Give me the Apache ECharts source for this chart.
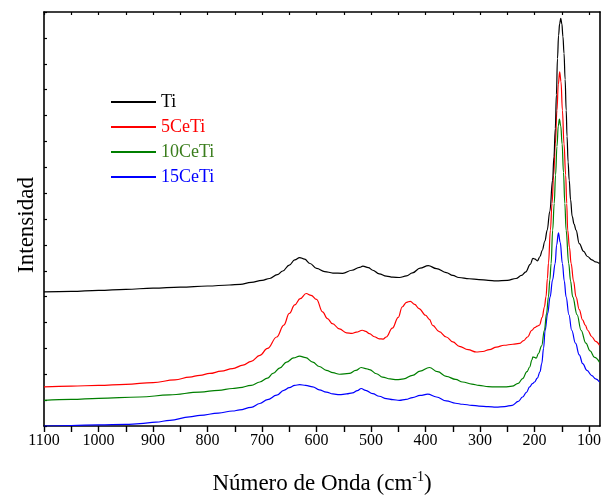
<!DOCTYPE html>
<html>
<head>
<meta charset="utf-8">
<script src="https://cdn.jsdelivr.net/npm/echarts@6/dist/echarts.min.js"></script>
<style>
  html, body { margin: 0; padding: 0; background: #fff; }
  #chart { width: 601px; height: 497px; }
</style>
</head>
<body>
<div id="chart"></div>
<script>
// Raman spectra: [wavenumber (cm-1), intensity (offset, a.u.)]
const tiSpectrum = [
  [1100,5.18],[1050,5.20],[1000,5.24],[950,5.28],[900,5.33],[850,5.37],[800,5.41],[760,5.45],
  [740,5.47],[720,5.55],[700,5.63],[686,5.70],[672,5.85],[662,5.99],[650,6.22],[640,6.42],
  [631,6.51],[622,6.45],[612,6.28],[600,6.09],[585,5.97],[570,5.91],[552,5.90],[535,6.02],
  [521,6.13],[515,6.18],[505,6.12],[497,6.02],[485,5.88],[472,5.79],[460,5.75],[448,5.74],
  [435,5.80],[424,5.92],[410,6.10],[395,6.20],[380,6.08],[362,5.93],[350,5.82],[339,5.74],
  [320,5.69],[302,5.66],[285,5.63],[271,5.61],[250,5.63],[234,5.70],[224,5.82],[216,5.96],
  [208,6.25],[203,6.48],[199,6.45],[195,6.38],[190,6.55],[186,6.79],[181,7.15],[177,7.56],
  [172,8.3],[167,9.5],[164.5,10.4],[162,11.5],[160,12.8],[158,14.2],[156,15.1],[154,15.55],
  [152,15.75],[150,15.55],[148,15.05],[146,14.4],[144,13.4],[142,12.2],[140.5,11.2],[138.5,10.2],
  [136.5,9.5],[134,8.75],[131,8.1],[127.5,7.8],[124,7.57],[118,7.05],
  [110,6.75],[103,6.55],[95,6.42],[88,6.34],[81,6.28]
];
const ce5Spectrum = [
  [1100,1.51],[1050,1.54],[1000,1.57],[950,1.61],[900,1.68],[860,1.78],[833,1.89],[814,1.96],
  [796,2.03],[775,2.12],[754,2.22],[735,2.35],[720,2.50],[704,2.73],[690,3.0],[673,3.44],
  [660,3.9],[650,4.35],[640,4.68],[630,4.92],[619,5.12],[610,5.05],[600,4.89],[589,4.41],
  [580,4.15],[571,3.96],[558,3.75],[545,3.60],[535,3.58],[527,3.63],[516,3.70],[510,3.66],
  [503,3.57],[494,3.45],[485,3.37],[478,3.36],[472,3.44],[461,3.78],[450,4.2],[443,4.60],
  [435,4.78],[428,4.82],[420,4.70],[412,4.54],[400,4.28],[393,4.12],[387,3.89],[375,3.65],
  [362,3.44],[350,3.25],[338,3.08],[322,2.95],[307,2.86],[295,2.88],[283,2.95],[270,3.05],
  [256,3.12],[240,3.16],[228,3.19],[220,3.30],[213,3.44],[205,3.70],[200,3.80],[195,3.86],
  [191,3.90],[186,4.2],[182,4.6],[179,5.0],[176.5,5.7],[174.5,6.3],[171,7.57],[168,8.6],
  [165,9.7],[162,10.9],[159,12.2],[156.5,13.2],[154,13.69],[151.5,13.3],[149,12.2],[146,10.9],
  [143,9.7],[141,8.6],[139.3,7.57],[136,6.9],[133,6.28],[128.5,5.6],[124,4.99],[118,4.5],
  [112,4.1],[107,3.9],[102.6,3.70],[95,3.45],[88,3.27],[81,3.12]
];
const ce10Spectrum = [
  [1100,0.99],[1050,1.03],[1000,1.07],[924,1.12],[870,1.20],[814,1.31],[780,1.38],[754,1.45],
  [741,1.48],[720,1.57],[704,1.70],[690,1.85],[680,2.03],[667,2.25],[655,2.47],[642,2.63],
  [631,2.70],[620,2.64],[607,2.47],[595,2.30],[582,2.15],[570,2.06],[558,2.00],[540,2.03],
  [528,2.15],[518,2.26],[510,2.22],[503,2.18],[490,2.02],[479,1.89],[465,1.82],[453,1.79],
  [440,1.82],[424,1.96],[410,2.12],[393,2.26],[378,2.10],[362,1.92],[345,1.80],[332,1.70],
  [315,1.62],[302,1.57],[285,1.52],[271,1.51],[255,1.51],[241,1.54],[230,1.65],[222,1.83],
  [214,2.10],[209,2.28],[205,2.55],[203,2.67],[200,2.65],[197,2.62],[193,2.80],[187,3.1],
  [182,3.70],[178,4.35],[174.6,4.99],[172,5.65],[169.7,6.28],[166.8,7.57],[164,8.6],[161.5,9.7],
  [159,10.8],[156.5,11.6],[154.5,11.86],[152,11.6],[149.5,10.9],[147,9.8],[144.5,8.6],[142.2,7.57],
  [137.4,6.28],[134,5.6],[130.1,4.99],[122,4.3],[114.7,3.70],[106,3.2],[98,2.9],[90,2.65],[81,2.47]
];
const ce15Spectrum = [
  [1100,0.0],[1050,0.02],[1000,0.04],[950,0.06],[924,0.09],[895,0.15],[869,0.22],[833,0.35],
  [814,0.41],[780,0.50],[754,0.58],[741,0.62],[720,0.72],[704,0.87],[690,1.02],[673,1.19],
  [660,1.38],[650,1.48],[640,1.57],[631,1.60],[620,1.57],[607,1.51],[595,1.40],[582,1.31],
  [570,1.24],[558,1.21],[545,1.24],[534,1.28],[525,1.37],[518,1.45],[510,1.38],[497,1.25],
  [485,1.15],[472,1.06],[460,1.02],[448,0.99],[436,1.03],[424,1.10],[410,1.18],[396,1.23],
  [380,1.12],[362,0.97],[345,0.88],[332,0.84],[315,0.80],[302,0.77],[285,0.75],[271,0.73],
  [255,0.75],[241,0.80],[230,0.95],[222,1.12],[215,1.30],[209,1.51],[204,1.64],[200,1.70],
  [195,1.85],[190,2.1],[186.9,2.41],[183.5,3.0],[180.7,3.70],[176,4.35],[171.5,4.99],[167,5.65],
  [162.3,6.28],[159.5,7.0],[156.3,7.46],[153,7.1],[149,6.28],[145.5,5.6],[142.2,4.99],[137,4.3],
  [131.9,3.70],[125,3.2],[118,2.75],[111.7,2.41],[104,2.15],[95,1.95],[88,1.82],[81,1.70]
];

const seriesNames = ['Ti', '5CeTi', '10CeTi', '15CeTi'];
const lineColors = ['#000000', '#ff0000', '#007f00', '#0000ff'];
const legendTextColors = ['#000000', '#ff0000', '#3a7d1c', '#0000ff'];
const xTickValues = [100,150,200,250,300,350,400,450,500,550,600,650,700,750,800,850,900,950,1000,1050,1100];
const xLabelValues = [100,200,300,400,500,600,700,800,900,1000,1100];

const serif = 'Liberation Serif, "Times New Roman", serif';
const spectra = [tiSpectrum, ce5Spectrum, ce10Spectrum, ce15Spectrum];

const chart = echarts.init(document.getElementById('chart'), null, { renderer: 'canvas' });

const frameLine = { show: true, onZero: false, lineStyle: { color: '#000', width: 1.6 } };

chart.setOption({
  animation: false,
  backgroundColor: '#fff',
  grid: { left: 44, right: 1, top: 12, bottom: 71, containLabel: false, outerBoundsMode: 'none' },
  legend: {
    orient: 'vertical',
    left: 111,
    top: 92,
    padding: 0,
    itemWidth: 45,
    itemHeight: 2,
    itemGap: 5,
    icon: 'rect',
    textStyle: { fontFamily: serif, fontSize: 18, lineHeight: 20 },
    data: seriesNames.map((n, i) => ({ name: n, textStyle: { color: legendTextColors[i] } }))
  },
  xAxis: [
    {
      type: 'value', min: 80, max: 1100, inverse: true, position: 'bottom',
      axisLine: frameLine,
      axisTick: { show: true, inside: false, length: 6, lineStyle: { color: '#000', width: 1.4 }, customValues: xTickValues },
      axisLabel: {
        show: true, margin: 7, color: '#000', fontFamily: serif, fontSize: 16,
        customValues: xLabelValues, formatter: v => String(v), hideOverlap: false
      },
      splitLine: { show: false }
    },
    {
      type: 'value', min: 80, max: 1100, inverse: true, position: 'top',
      axisLine: frameLine,
      axisTick: { show: true, inside: true, length: 3, lineStyle: { color: '#000', width: 1.2 }, customValues: xTickValues },
      axisLabel: { show: false },
      splitLine: { show: false }
    }
  ],
  yAxis: [
    {
      type: 'value', min: 0, max: 16, interval: 1, position: 'left',
      axisLine: frameLine,
      axisTick: { show: true, inside: true, length: 3, lineStyle: { color: '#000', width: 1.2 } },
      axisLabel: { show: false },
      splitLine: { show: false }
    },
    {
      type: 'value', min: 0, max: 16, position: 'right',
      axisLine: frameLine,
      axisTick: { show: false },
      axisLabel: { show: false },
      splitLine: { show: false }
    }
  ],
  graphic: [
    {
      type: 'text', x: 27, y: 225, rotation: Math.PI / 2,
      style: { text: 'Intensidad', font: '23px ' + serif, fill: '#000', align: 'center', verticalAlign: 'middle' }
    },
    {
      type: 'text', x: 322, y: 484,
      style: {
        text: '{a|Número de Onda (cm}{s|-1}{a|)}',
        align: 'center', verticalAlign: 'middle', fill: '#000',
        rich: {
          a: { fontFamily: serif, fontSize: 23, lineHeight: 28, fill: '#000' },
          s: { fontFamily: serif, fontSize: 14, lineHeight: 28, verticalAlign: 'top', fill: '#000' }
        }
      }
    }
  ],
  series: spectra.map((data, i) => ({
    name: seriesNames[i],
    type: 'line',
    data: data,
    showSymbol: false,
    symbol: 'none',
    smooth: 0.4,
    smoothMonotone: 'x',
    clip: true,
    color: lineColors[i],
    lineStyle: { color: lineColors[i], width: 1.2 },
    z: 10 - i
  }))
});
</script>
</body>
</html>
